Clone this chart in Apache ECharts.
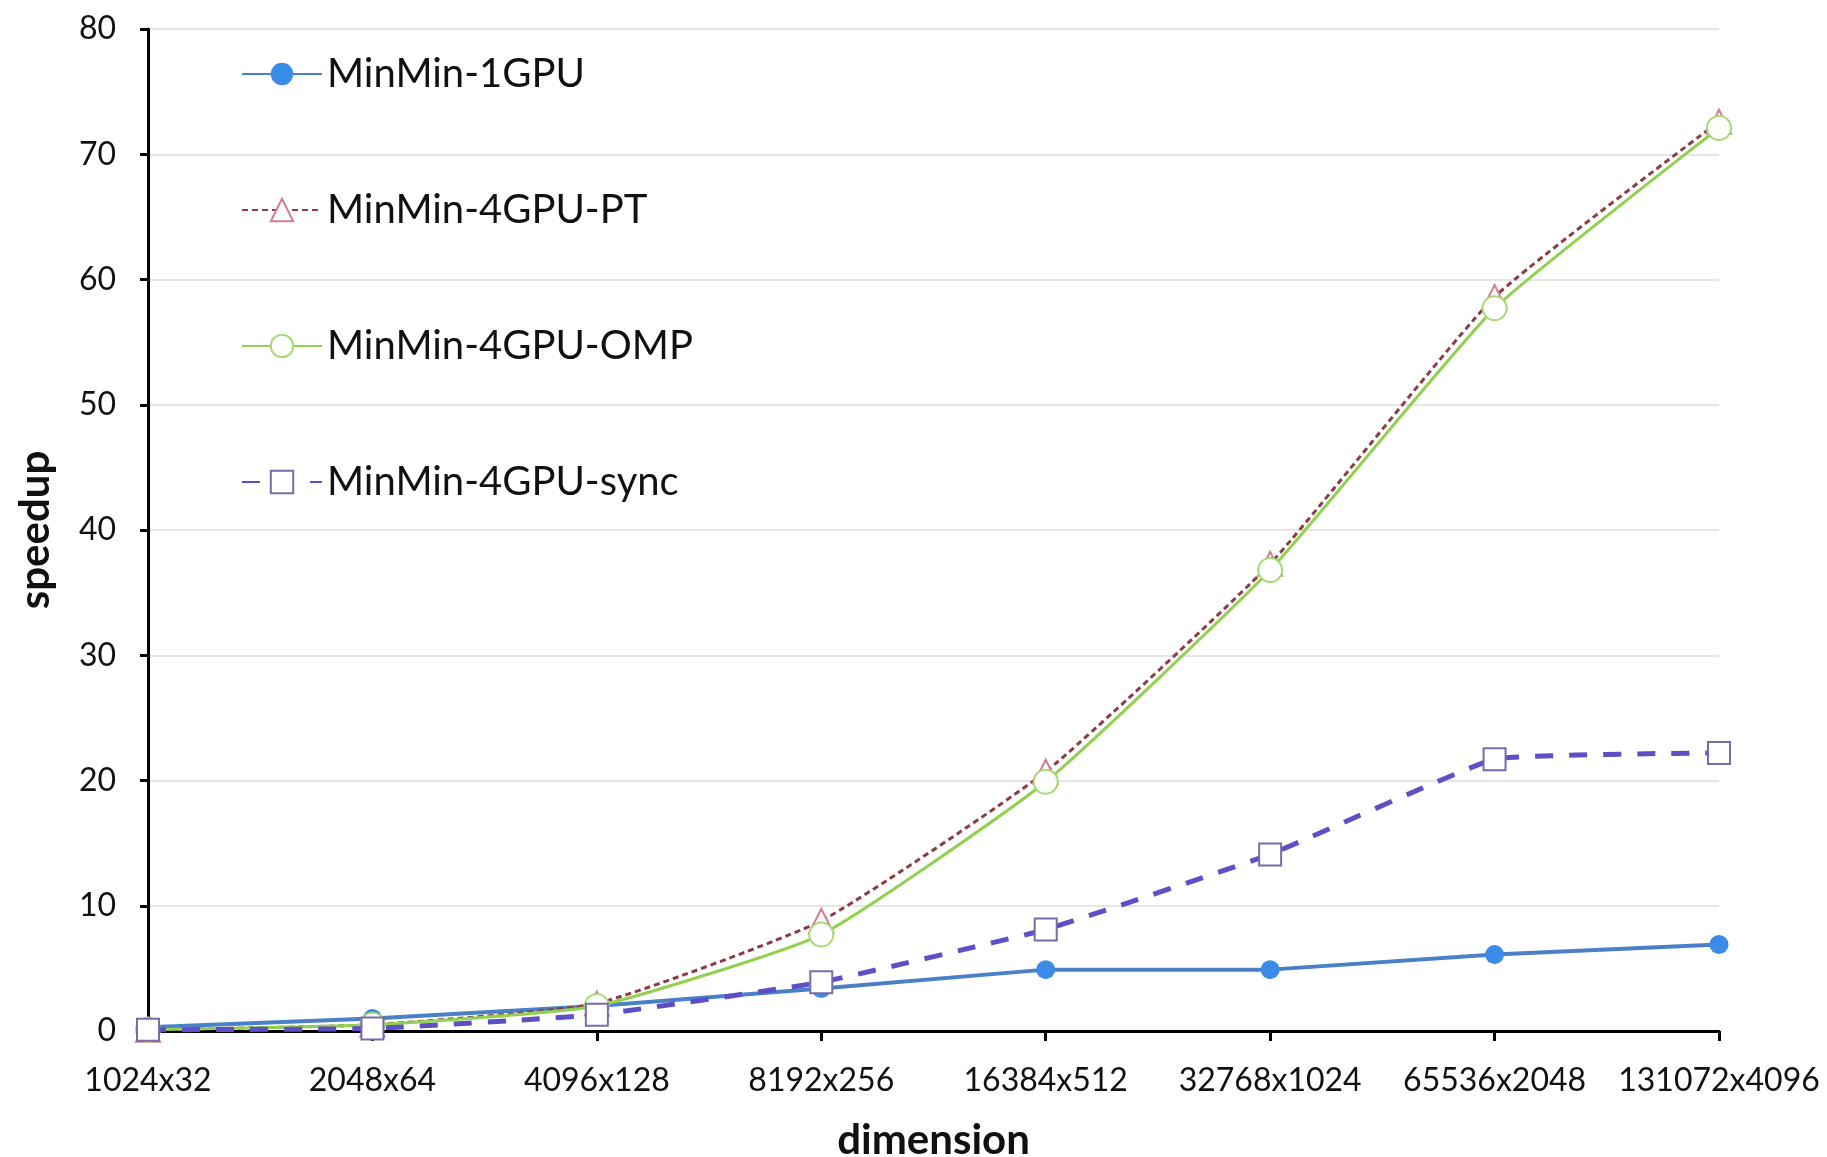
<!DOCTYPE html>
<html><head><meta charset="utf-8">
<script src="https://cdn.jsdelivr.net/npm/echarts@6/dist/echarts.min.js"></script>
<style>html,body{margin:0;padding:0;background:#fff}#c{width:1827px;height:1157px}</style>
</head><body><div id="c"></div>
<script>
const categories = ['1024x32','2048x64','4096x128','8192x256','16384x512','32768x1024','65536x2048','131072x4096'];
const yTicks = [0,10,20,30,40,50,60,70,80];
const seriesNames = ['MinMin-1GPU','MinMin-4GPU-PT','MinMin-4GPU-OMP','MinMin-4GPU-sync'];
const gpu1 = [0.3, 1.0, 2.0, 3.4, 4.9, 4.9, 6.1, 6.9];
const gpu4pt = [0.1, 0.5, 2.2, 8.8, 20.7, 37.3, 58.6, 72.6];
const gpu4omp = [0.1, 0.5, 2.0, 7.7, 19.9, 36.8, 57.7, 72.1];
const gpu4sync = [0.1, 0.2, 1.3, 3.9, 8.1, 14.1, 21.7, 22.2];

const FONT = 'Lato';
const chart = echarts.init(document.getElementById('c'));
chart.setOption({
  animation: false,
  backgroundColor: '#fff',
  grid: {left: 148, right: 108, top: 29, bottom: 126, outerBoundsMode: 'none', containLabel: false},
  legend: {
    orient: 'vertical', left: 236, top: 49, itemGap: 96,
    itemWidth: 80, itemHeight: 28,
    textStyle: {fontFamily: FONT, fontSize: 40, color: '#111'},
    data: seriesNames
  },
  xAxis: {
    type: 'category', data: categories, boundaryGap: false,
    name: 'dimension', nameLocation: 'middle', nameGap: 88,
    nameTextStyle: {fontFamily: FONT, fontSize: 42, fontWeight: 'bold', color: '#111'},
    axisLine: {lineStyle: {color: '#000', width: 3}},
    axisTick: {show: true, length: 10, interval: 0, lineStyle: {color: '#000', width: 3}},
    axisLabel: {fontFamily: FONT, fontSize: 32, color: '#111', margin: 34, interval: 0, hideOverlap: false},
    splitLine: {show: false}
  },
  yAxis: {
    type: 'value', min: yTicks[0], max: yTicks[yTicks.length-1], interval: 10,
    name: 'speedup', nameLocation: 'middle', nameGap: 92, nameRotate: 90,
    nameTextStyle: {fontFamily: FONT, fontSize: 42, fontWeight: 'bold', color: '#111'},
    axisLine: {show: true, lineStyle: {color: '#000', width: 3}},
    axisTick: {show: true, length: 8, lineStyle: {color: '#000', width: 3}},
    axisLabel: {fontFamily: FONT, fontSize: 32, color: '#111', margin: 32},
    splitLine: {lineStyle: {color: '#e6e6e6', width: 2}}
  },
  series: [
    {name: seriesNames[0], type: 'line', data: gpu1, symbol: 'circle', symbolSize: 19,
     lineStyle: {color: '#4a80c8', width: 4}, itemStyle: {color: '#3b8be8'}, z: 2},
    {name: seriesNames[1], type: 'line', data: gpu4pt, symbol: 'triangle', symbolSize: 24, smooth: 0.15,
     lineStyle: {color: '#8c3c46', width: 3, type: [6, 4]},
     itemStyle: {color: '#fff', borderColor: '#d07e90', borderWidth: 2}, z: 3},
    {name: seriesNames[2], type: 'line', data: gpu4omp, symbol: 'circle', symbolSize: 24, smooth: 0.15,
     lineStyle: {color: '#92d050', width: 3},
     itemStyle: {color: '#fff', borderColor: '#a8d878', borderWidth: 2}, z: 4},
    {name: seriesNames[3], type: 'line', data: gpu4sync, symbol: 'rect', symbolSize: 22, smooth: 0.1,
     lineStyle: {color: '#5e4fc6', width: 5, type: [18, 16]},
     itemStyle: {color: '#fff', borderColor: '#7a6aa8', borderWidth: 2}, z: 5}
  ]
});
</script></body></html>
